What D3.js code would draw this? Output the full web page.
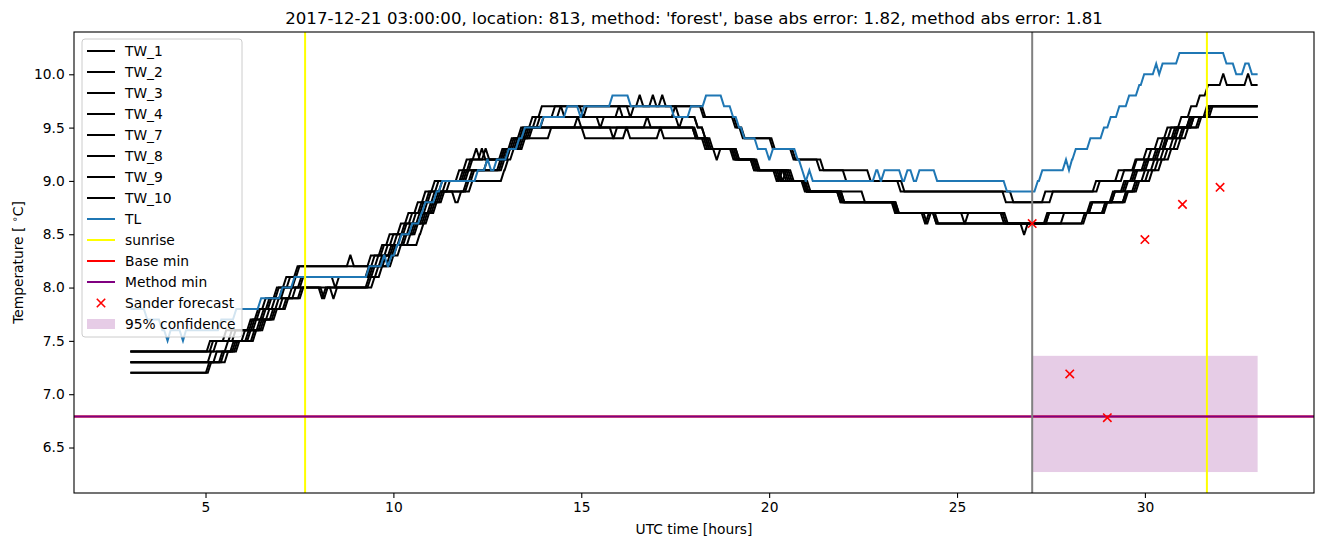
<!DOCTYPE html>
<html><head><meta charset="utf-8">
<script src="https://cdn.jsdelivr.net/npm/d3@7"></script>
<style>body{margin:0;background:#fff} svg{display:block} text{font-family:"DejaVu Sans",sans-serif;fill:#000}</style>
</head><body><svg id="chart" width="1324" height="547"></svg>
<script>
// ---------- data (step lists: [hour, value reached]) ----------
const TW_1 = [[3,7.4],[5.12,7.5],[5.55,7.6],[6.2,7.7],[6.4,7.8],[6.6,7.9],[6.9,8.0],[7.15,8.1],[7.45,8.2],[8.85,8.3],[8.95,8.2],[9.4,8.3],[9.7,8.4],[9.9,8.5],[10.2,8.6],[10.4,8.7],[10.65,8.8],[10.85,8.9],[11.1,9.0],[11.75,9.1],[11.95,9.2],[12.2,9.3],[12.3,9.2],[12.9,9.3],[13.15,9.4],[13.4,9.5],[13.7,9.6],[13.95,9.7],[16.55,9.8],[16.65,9.7],[16.9,9.8],[17.0,9.7],[18.25,9.6],[19.1,9.5],[19.3,9.4],[20.1,9.3],[20.65,9.2],[21.35,9.1],[22.7,9.0],[23.6,8.9],[26.5,8.8],[27.35,8.9],[28.7,9.0],[29.3,9.1],[29.78,9.2],[30.17,9.3],[30.48,9.4],[30.7,9.5],[30.97,9.6],[31.23,9.7],[31.46,9.8],[31.68,9.9],[32.08,10.0],[32.18,9.9],[32.74,10.0],[32.84,9.9]];
const TW_2 = [[3,7.4],[5.2,7.5],[5.7,7.6],[6.25,7.7],[6.45,7.8],[6.7,7.9],[6.95,8.0],[7.25,8.1],[7.5,8.2],[9.5,8.3],[9.75,8.4],[10.0,8.5],[10.3,8.6],[10.5,8.7],[10.75,8.8],[10.95,8.9],[11.2,9.0],[11.85,9.1],[12.05,9.2],[12.45,9.3],[12.55,9.2],[13.0,9.3],[13.2,9.4],[13.45,9.5],[13.8,9.6],[14.3,9.7],[15.05,9.6],[15.15,9.7],[16.3,9.6],[16.4,9.7],[17.15,9.8],[17.25,9.7],[18.3,9.6],[19.15,9.5],[19.35,9.4],[20.15,9.3],[20.7,9.2],[21.45,9.1],[22.05,9.0],[23.5,8.9],[26.3,8.8],[27.55,8.9],[28.8,9.0],[29.45,9.1],[29.75,9.2],[30.05,9.3],[30.35,9.4],[30.6,9.5],[31.25,9.6],[31.7,9.7]];
const TW_3 = [[3,7.3],[5.15,7.4],[5.6,7.5],[6.05,7.6],[6.35,7.7],[6.6,7.8],[6.85,7.9],[7.1,8.0],[7.55,8.1],[9.4,8.2],[9.7,8.3],[9.95,8.4],[10.2,8.5],[10.45,8.6],[10.7,8.7],[10.9,8.8],[11.1,8.9],[11.4,9.0],[12.0,9.1],[12.85,9.2],[13.05,9.3],[13.35,9.4],[13.6,9.5],[14.0,9.6],[15.5,9.5],[15.6,9.6],[17.6,9.5],[17.7,9.6],[18.1,9.5],[18.3,9.4],[18.45,9.3],[19.1,9.2],[19.7,9.1],[20.45,9.0],[21.0,8.9],[21.95,8.8],[23.4,8.7],[24.45,8.6],[26.78,8.5],[26.88,8.6],[27.4,8.7],[28.55,8.8],[29.15,8.9],[29.45,9.0],[29.7,9.1],[30.0,9.2],[30.3,9.3],[30.55,9.4],[30.8,9.5],[31.2,9.6],[31.75,9.7]];
const TW_4 = [[3,7.3],[5.3,7.4],[5.75,7.5],[6.15,7.6],[6.45,7.7],[6.7,7.8],[6.95,7.9],[7.3,8.0],[8.15,7.9],[8.25,8.0],[9.35,8.1],[9.5,8.2],[9.8,8.3],[10.0,8.4],[10.3,8.5],[10.55,8.6],[10.8,8.7],[11.0,8.8],[11.2,8.9],[12.0,9.0],[12.1,9.1],[12.9,9.2],[13.1,9.3],[13.45,9.4],[13.7,9.5],[15.85,9.4],[15.95,9.5],[18.05,9.4],[18.35,9.3],[19.15,9.2],[19.7,9.1],[20.2,9.0],[20.3,9.1],[20.5,9.0],[21.05,8.9],[22.0,8.8],[23.45,8.7],[24.2,8.6],[24.3,8.7],[26.3,8.6],[27.45,8.7],[28.6,8.8],[29.2,8.9],[29.55,9.0],[29.8,9.1],[30.1,9.2],[30.4,9.3],[30.6,9.4],[30.9,9.5],[31.3,9.6]];
const TW_7 = [[3,7.3],[5.45,7.4],[5.85,7.5],[6.2,7.6],[6.5,7.7],[6.8,7.8],[7.05,7.9],[7.4,8.0],[7.6,8.1],[8.45,8.0],[8.55,8.1],[9.45,8.2],[9.75,8.3],[10.05,8.4],[10.35,8.5],[10.6,8.6],[10.85,8.7],[11.05,8.8],[11.25,8.9],[11.5,9.0],[11.95,9.1],[12.1,9.2],[12.35,9.3],[12.45,9.2],[12.95,9.3],[13.25,9.4],[13.55,9.5],[14.9,9.6],[15.0,9.5],[16.75,9.6],[16.85,9.5],[18.1,9.4],[18.4,9.3],[19.05,9.2],[19.6,9.1],[20.35,9.0],[20.45,9.1],[20.6,9.0],[21.0,8.9],[22.0,8.8],[23.35,8.7],[24.5,8.6],[27.85,8.7],[28.95,8.8],[29.5,8.9],[29.75,9.0],[30.0,9.1],[30.25,9.2],[30.5,9.3],[30.75,9.4],[31.0,9.5],[31.3,9.6],[31.8,9.7]];
const TW_8 = [[3,7.2],[5.1,7.3],[5.5,7.4],[5.8,7.5],[6.3,7.6],[6.55,7.7],[6.85,7.8],[7.15,7.9],[7.6,8.0],[8.1,7.9],[8.2,8.0],[9.5,8.1],[9.7,8.2],[10.0,8.3],[10.2,8.4],[10.7,8.5],[10.8,8.6],[10.95,8.7],[11.15,8.8],[11.35,8.9],[11.65,8.8],[11.8,8.9],[12.1,9.0],[12.95,9.1],[13.05,9.2],[13.2,9.3],[13.5,9.4],[14.2,9.5],[15.1,9.4],[16.2,9.5],[16.3,9.4],[17.1,9.5],[17.2,9.4],[18.3,9.3],[19.1,9.2],[19.75,9.1],[20.65,9.0],[21.1,8.9],[22.55,8.8],[23.45,8.7],[24.45,8.6],[28.45,8.7],[29.0,8.8],[29.55,8.9],[29.85,9.0],[30.1,9.1],[30.35,9.2],[30.6,9.3],[30.85,9.4],[31.05,9.5],[31.45,9.6]];
const TW_9 = [[3,7.2],[5.15,7.3],[5.6,7.4],[5.9,7.5],[6.35,7.6],[6.6,7.7],[6.9,7.8],[7.2,7.9],[7.55,8.0],[8.4,7.9],[8.5,8.0],[9.4,8.1],[9.6,8.2],[9.9,8.3],[10.1,8.4],[10.45,8.5],[10.65,8.6],[10.9,8.7],[11.1,8.8],[11.3,8.9],[11.95,9.0],[12.15,9.1],[12.95,9.2],[13.1,9.3],[13.4,9.4],[13.65,9.5],[18.05,9.4],[18.4,9.3],[18.6,9.2],[18.7,9.3],[19.2,9.2],[19.6,9.1],[20.25,9.0],[20.35,9.1],[20.55,9.0],[21.0,8.9],[21.9,8.8],[23.4,8.7],[25.2,8.6],[25.3,8.7],[26.25,8.6],[28.4,8.7],[28.95,8.8],[29.5,8.9],[29.8,9.0],[30.2,9.1],[30.45,9.2],[30.7,9.3],[30.95,9.4],[31.15,9.5],[31.5,9.6]];
const TW_10 = [[3,7.4],[5.3,7.5],[5.8,7.6],[6.3,7.7],[6.55,7.8],[6.75,7.9],[7.05,8.0],[7.4,8.1],[9.35,8.2],[9.6,8.3],[9.85,8.4],[10.1,8.5],[10.35,8.6],[10.6,8.7],[10.8,8.8],[11.0,8.9],[11.3,9.0],[11.9,9.1],[12.5,9.2],[12.95,9.3],[13.3,9.4],[13.5,9.5],[13.9,9.6],[14.45,9.7],[14.55,9.6],[16.0,9.7],[16.1,9.6],[17.5,9.7],[17.6,9.6],[18.1,9.5],[18.3,9.4],[18.5,9.3],[19.2,9.2],[19.65,9.1],[20.3,9.0],[20.95,8.9],[21.9,8.8],[23.4,8.7],[24.15,8.6],[24.25,8.7],[26.35,8.6],[27.45,8.7],[28.6,8.8],[29.2,8.9],[29.5,9.0],[29.75,9.1],[30.05,9.2],[30.35,9.3],[30.6,9.4],[30.85,9.5],[31.2,9.6],[31.65,9.7]];
const TL = [[3.0,7.8],[3.45,7.7],[3.85,7.6],[3.99,7.5],[4.07,7.6],[4.4,7.5],[4.48,7.6],[5.42,7.7],[5.82,7.8],[6.48,7.9],[7.05,8.0],[7.37,8.1],[9.36,8.2],[9.75,8.3],[9.85,8.2],[9.95,8.3],[10.1,8.4],[10.22,8.5],[10.5,8.6],[10.75,8.7],[10.85,8.8],[11.15,8.9],[11.3,9.0],[12.25,9.1],[12.5,9.2],[12.6,9.1],[12.75,9.2],[13.07,9.3],[13.35,9.4],[13.5,9.5],[13.99,9.6],[14.63,9.7],[14.98,9.6],[15.08,9.7],[15.83,9.8],[16.32,9.7],[17.47,9.6],[17.92,9.7],[18.32,9.8],[18.8,9.7],[19.04,9.6],[19.2,9.5],[19.34,9.4],[19.7,9.3],[20.0,9.2],[20.1,9.3],[20.76,9.2],[20.88,9.1],[20.97,9.0],[21.07,9.1],[21.16,9.0],[22.85,9.1],[22.97,9.0],[23.07,9.1],[23.55,9.0],[23.68,9.1],[23.85,9.0],[24.0,9.1],[24.47,9.0],[26.33,8.9],[27.15,9.0],[27.27,9.1],[27.9,9.2],[27.98,9.1],[28.06,9.2],[28.16,9.3],[28.55,9.4],[28.91,9.5],[29.09,9.6],[29.32,9.7],[29.58,9.8],[29.85,9.9],[29.98,10.0],[30.3,10.1],[30.38,10.0],[30.47,10.1],[30.92,10.2],[32.17,10.1],[32.43,10.0],[32.67,10.1],[32.85,10.0]];

const twNames = ["TW_1","TW_2","TW_3","TW_4","TW_7","TW_8","TW_9","TW_10"];
const twSeries = [TW_1,TW_2,TW_3,TW_4,TW_7,TW_8,TW_9,TW_10];
const timeRange = [3, 33];
const sunriseHours = [7.65, 31.65];
const baseMin = 6.79;
const methodMin = 6.79;
const forecastStart = 27;
const forecastHours = [27, 28, 29, 30, 31, 32];
const forecastValues = [8.60, 7.19, 6.78, 8.45, 8.78, 8.94];
const confHours = [27, 33];
const confBounds = [6.27, 7.36];
const xTicks = [5, 10, 15, 20, 25, 30];
const yTicks = [6.5, 7.0, 7.5, 8.0, 8.5, 9.0, 9.5, 10.0];
const titleText = "2017-12-21 03:00:00, location: 813, method: 'forest', base abs error: 1.82, method abs error: 1.81";
const legendLabels = ["TW_1","TW_2","TW_3","TW_4","TW_7","TW_8","TW_9","TW_10","TL","sunrise","Base min","Method min","Sander forecast","95% confidence"];

// ---------- layout ----------
const RAMP = 0.09;
const L = 74, R = 1314, T = 32, B = 493;
const FS = 13.8;
const svg = d3.select("#chart");

function vertices(steps){
  const pts = [[steps[0][0], steps[0][1]]];
  for (let i = 1; i < steps.length; i++){
    const [t, v] = steps[i], [tp, vp] = steps[i-1];
    pts.push([Math.max(tp, t - RAMP), vp]);
    pts.push([t, v]);
  }
  const last = steps[steps.length-1];
  if (last[0] < timeRange[1]) pts.push([timeRange[1], last[1]]);
  return pts;
}

const xPad = (timeRange[1]-timeRange[0])*0.05;
const x = d3.scaleLinear().domain([timeRange[0]-xPad, timeRange[1]+xPad]).range([L, R]);
const allVals = [...twSeries.flat().map(d=>d[1]), ...TL.map(d=>d[1]), ...forecastValues, ...confBounds];
const yMin = d3.min(allVals), yMax = d3.max(allVals);
const yPad = (yMax-yMin)*0.05;
const y = d3.scaleLinear().domain([yMin-yPad, yMax+yPad]).range([B, T]);

svg.append("defs").append("clipPath").attr("id","clip")
  .append("rect").attr("x",L).attr("y",T).attr("width",R-L).attr("height",B-T);
const plot = svg.append("g").attr("clip-path","url(#clip)");
const line = d3.line().x(d=>x(d[0])).y(d=>y(d[1]));

twSeries.forEach(s => {
  plot.append("path").attr("d", line(vertices(s))).attr("fill","none")
    .attr("stroke","#000").attr("stroke-width",2).attr("stroke-linejoin","miter");
});
plot.append("path").attr("d", line(vertices(TL))).attr("fill","none")
  .attr("stroke","#1f77b4").attr("stroke-width",2);

// confidence band
plot.append("rect").attr("x", x(confHours[0])).attr("width", x(confHours[1])-x(confHours[0]))
  .attr("y", y(confBounds[1])).attr("height", y(confBounds[0])-y(confBounds[1]))
  .attr("fill","#800080").attr("fill-opacity",0.2);

sunriseHours.forEach(h => {
  plot.append("line").attr("x1",x(h)).attr("x2",x(h)).attr("y1",T).attr("y2",B)
    .attr("stroke","#ffff00").attr("stroke-width",2);
});
plot.append("line").attr("x1",L).attr("x2",R).attr("y1",y(baseMin)).attr("y2",y(baseMin))
  .attr("stroke","#ff0000").attr("stroke-width",2);
plot.append("line").attr("x1",L).attr("x2",R).attr("y1",y(methodMin)).attr("y2",y(methodMin))
  .attr("stroke","#800080").attr("stroke-width",2);
plot.append("line").attr("x1",x(forecastStart)).attr("x2",x(forecastStart)).attr("y1",T).attr("y2",B)
  .attr("stroke","#808080").attr("stroke-width",2);

const mk = 4.2;
forecastHours.forEach((h,i) => {
  const cx = x(h), cy = y(forecastValues[i]);
  plot.append("path").attr("d",`M${cx-mk},${cy-mk}L${cx+mk},${cy+mk}M${cx-mk},${cy+mk}L${cx+mk},${cy-mk}`)
    .attr("stroke","#ff0000").attr("stroke-width",1.6).attr("fill","none");
});

// axes frame
svg.append("rect").attr("x",L).attr("y",T).attr("width",R-L).attr("height",B-T)
  .attr("fill","none").attr("stroke","#000").attr("stroke-width",1.1);

const xAxis = svg.append("g").attr("transform",`translate(0,${B})`)
  .call(d3.axisBottom(x).tickValues(xTicks).tickSize(4.9).tickPadding(4.4).tickFormat(d3.format("d")));
const yAxis = svg.append("g").attr("transform",`translate(${L},0)`)
  .call(d3.axisLeft(y).tickValues(yTicks).tickSize(4.9).tickPadding(4.4).tickFormat(d3.format(".1f")));
[xAxis,yAxis].forEach(a => {
  a.select(".domain").remove();
  a.selectAll(".tick line").attr("stroke","#000").attr("stroke-width",1.1);
  a.selectAll(".tick text").attr("font-family","DejaVu Sans").attr("font-size",FS).attr("fill","#000");
});

svg.append("text").attr("x",(L+R)/2).attr("y",24).attr("text-anchor","middle")
  .attr("font-size",16.6).text(titleText);
svg.append("text").attr("x",(L+R)/2).attr("y",534).attr("text-anchor","middle")
  .attr("font-size",FS).text("UTC time [hours]");
const yl = svg.append("text").attr("transform",`translate(23,${(T+B)/2}) rotate(-90)`)
  .attr("text-anchor","middle").attr("font-size",FS);
yl.append("tspan").text("Temperature [ ");
yl.append("tspan").attr("font-size",9.8).attr("dy",-5).text("\u2218");
yl.append("tspan").attr("dy",5).text("C]");

// legend
const lg = svg.append("g");
const rowH = 21.0, row0 = 51;
lg.append("rect").attr("x",82).attr("y",39).attr("width",160).attr("height",298).attr("rx",3)
  .attr("fill","#fff").attr("fill-opacity",0.8).attr("stroke","#cccccc").attr("stroke-width",1);
const handleColors = ["#000","#000","#000","#000","#000","#000","#000","#000","#1f77b4","#ffff00","#ff0000","#800080"];
legendLabels.forEach((lab,i) => {
  const cy = row0 + i*rowH;
  if (i < handleColors.length){
    lg.append("line").attr("x1",87).attr("x2",115).attr("y1",cy).attr("y2",cy)
      .attr("stroke",handleColors[i]).attr("stroke-width",2);
  } else if (lab === "Sander forecast"){
    const cx = 101;
    lg.append("path").attr("d",`M${cx-mk},${cy-mk}L${cx+mk},${cy+mk}M${cx-mk},${cy+mk}L${cx+mk},${cy-mk}`)
      .attr("stroke","#ff0000").attr("stroke-width",1.6);
  } else {
    lg.append("rect").attr("x",87).attr("y",cy-5).attr("width",28).attr("height",10)
      .attr("fill","#800080").attr("fill-opacity",0.2);
  }
  lg.append("text").attr("x",125).attr("y",cy+5).attr("font-size",FS).text(lab);
});
</script></body></html>
